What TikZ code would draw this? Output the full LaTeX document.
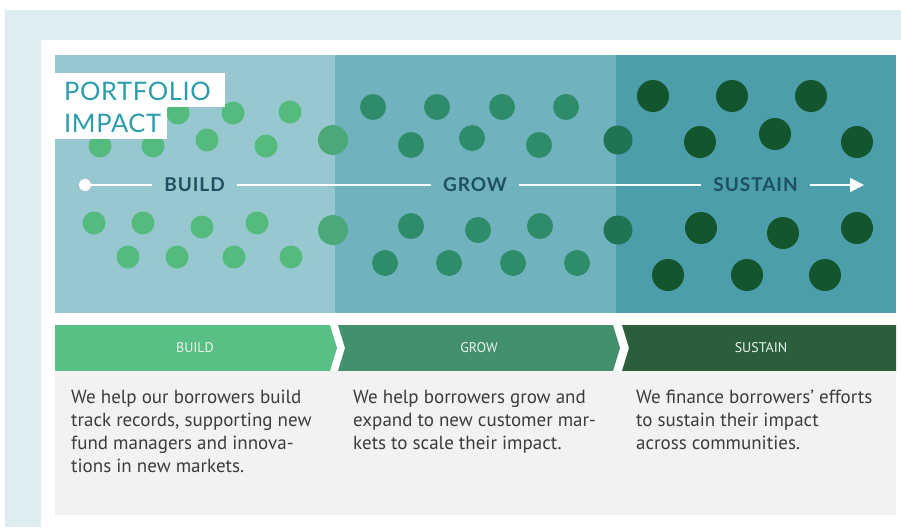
\documentclass[tikz,border=0pt]{standalone}
\usepackage{fontspec}
\usetikzlibrary{arrows.meta}
\newfontfamily\bodyfont{PT Sans}
\newfontfamily\titlefont{Lato}[LetterSpace=2.5]
\newfontfamily\lblfont{Lato}[LetterSpace=5]
\definecolor{outerbg}{HTML}{DDEDF2}
\definecolor{secA}{HTML}{97C8D0}
\definecolor{secB}{HTML}{70B2BD}
\definecolor{secC}{HTML}{4D9EAB}
\definecolor{dotA}{HTML}{55BA7E}
\definecolor{dotAB}{HTML}{4BA979}
\definecolor{dotB}{HTML}{2F8C6B}
\definecolor{dotBC}{HTML}{1F7553}
\definecolor{dotC}{HTML}{13562E}
\definecolor{bandA}{HTML}{5ABF85}
\definecolor{bandB}{HTML}{42906E}
\definecolor{bandC}{HTML}{2B5F3C}
\definecolor{graybox}{HTML}{F2F2F2}
\definecolor{bodytext}{HTML}{3C3C3C}
\definecolor{titleteal}{HTML}{2B9DAB}
\definecolor{lbldark}{HTML}{1D5062}
\definecolor{bandtext}{HTML}{E6F4EC}
\tikzset{
  stagelbl/.style={font=\lblfont\bfseries\fontsize{19}{22}\selectfont, text=lbldark, inner xsep=12pt, inner ysep=0pt},
  bandlbl/.style={font=\bodyfont\fontsize{14}{16}\selectfont, text=bandtext, inner sep=0pt},
  bodytxt/.style={font=\bodyfont\fontsize{19}{23}\selectfont, text=bodytext, align=left, anchor=north west, inner sep=0pt},
  titletxt/.style={font=\titlefont\fontsize{25.5}{30}\selectfont, text=titleteal, anchor=base west, inner sep=0pt},
  flow/.style={draw=white, line width=1.8pt}
}
\begin{document}
\begin{tikzpicture}[x=1pt,y=-1pt]
\useasboundingbox (0,0) rectangle (901,527);
% backgrounds
\fill[outerbg] (5,10) rectangle (901,527);
\fill[white] (41,40) rectangle (901,527);
\fill[secA] (55,55) rectangle (335,313);
\fill[secB] (335,55) rectangle (616,313);
\fill[secC] (616,55) rectangle (896,313);
% dots section A
\foreach \x/\y in {178/113, 233/113, 290/112, 100/146, 153/146, 207/140, 266/146,
                   94/223, 143/223, 202/227, 257/223, 128/257, 177/257, 234/257, 291/257}
  \fill[dotA] (\x,\y) circle (11.5);
\foreach \y in {140,230}
  \fill[dotAB] (333,\y) circle (15);
% dots section B
\foreach \x/\y in {373/107, 437/107, 502/107, 566/107, 411/145, 472/138, 539/145,
                   411/226, 478/230, 540/226, 385/263, 449/263, 513/263, 577/263}
  \fill[dotB] (\x,\y) circle (13);
\foreach \y in {140,230}
  \fill[dotBC] (618,\y) circle (14.5);
% dots section C
\foreach \x/\y in {653/96, 732/96, 811/96, 700/142, 775/134, 857/142,
                   701/228, 783/233, 857/228, 668/275, 747/275, 825/275}
  \fill[dotC] (\x,\y) circle (16);
% title
\fill[white] (55,73) rectangle (225,107);
\fill[white] (55,107) rectangle (167,139);
\node[titletxt] (t1) at (64,100) {PORTFOLIO};
\node[titletxt] (t2) at (64,132) {IMPACT};
% flow arrow
\node[circle, fill=white, minimum size=12pt, inner sep=0pt] (start) at (85,185) {};
\node[stagelbl] (sBuild) at (194.5,185) {BUILD};
\node[stagelbl] (sGrow) at (475,185) {GROW};
\node[stagelbl] (sSustain) at (755.5,185) {SUSTAIN};
\coordinate (end) at (864,185);
\draw[flow] (start) -- (sBuild);
\draw[flow] (sBuild) -- (sGrow);
\draw[flow] (sGrow) -- (sSustain);
\draw[flow, -{Triangle[length=14pt,width=14pt]}] (sSustain) -- (end);
% chevron bands
\fill[bandA] (55,325) -- (330,325) -- (337,348) -- (330,371) -- (55,371) -- cycle;
\fill[bandB] (338,325) -- (613,325) -- (620,348) -- (613,371) -- (338,371) -- (345,348) -- cycle;
\fill[bandC] (622,325) -- (896,325) -- (896,371) -- (622,371) -- (629,348) -- cycle;
\node[bandlbl] (bBuild) at (195,348) {BUILD};
\node[bandlbl] (bGrow) at (479,348) {GROW};
\node[bandlbl] (bSustain) at (761,348) {SUSTAIN};
% gray text box
\fill[graybox] (55,371) rectangle (896,515);
\node[bodytxt] (c1) at (71,390) {We help our borrowers build\\track records, supporting new\\fund managers and innova-\\tions in new markets.};
\node[bodytxt] (c2) at (353,390) {We help borrowers grow and\\expand to new customer mar-\\kets to scale their impact.};
\node[bodytxt] (c3) at (636,390) {We finance borrowers’ efforts\\to sustain their impact\\across communities.};
\end{tikzpicture}
\end{document}
